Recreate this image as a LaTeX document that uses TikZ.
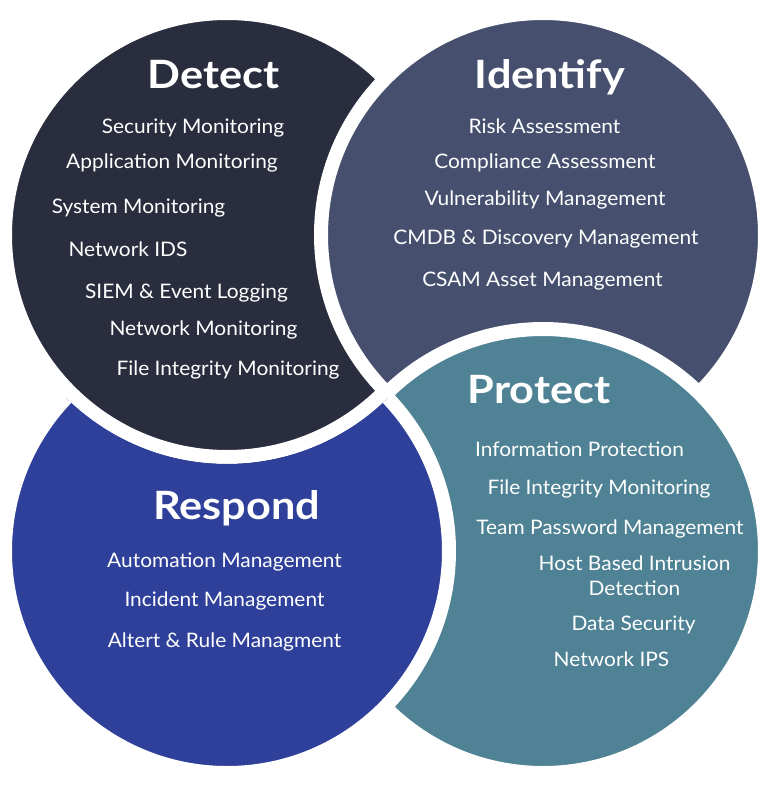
\documentclass[tikz,border=0pt]{standalone}
\usepackage{fontspec}
\setmainfont{Lato}[FakeStretch=1.045]
\newfontfamily\titlefont{Lato}[FakeStretch=1.11]
\definecolor{detectc}{RGB}{41,45,61}
\definecolor{identifyc}{RGB}{70,80,110}
\definecolor{protectc}{RGB}{78,130,148}
\definecolor{respondc}{RGB}{46,64,154}
\tikzset{
  ring/.style={draw=white, line width=14pt},
  titletext/.style={text=white, inner sep=0pt, anchor=base, font=\titlefont\bfseries\fontsize{39}{44}\selectfont},
  itemtext/.style={text=white, inner sep=0pt, anchor=base, font=\fontsize{20}{25}\selectfont},
}
\begin{document}
\begin{tikzpicture}[x=1pt,y=-1pt]
\useasboundingbox (0,0) rectangle (775,788);
% circles (cyclic overlap: Detect < Identify < Protect < Respond < Detect)
\path[ring, fill=respondc] (227,551) circle[radius=222pt];
\path[ring, fill=detectc] (227,235) circle[radius=222pt];
\path[ring, fill=identifyc] (543,235) circle[radius=222pt];
\path[ring, fill=protectc] (543,551) circle[radius=222pt];
\begin{scope}[even odd rule]
  \clip (0,0) rectangle (775,788) (227,235) circle[radius=229pt];
  \path[ring, fill=respondc] (227,551) circle[radius=222pt];
\end{scope}
% Detect
\node[titletext] (detect) at (213.5,88) {Detect};
\node[itemtext] (d1) at (193,133) {Security Monitoring};
\node[itemtext] (d2) at (172,168) {Application Monitoring};
\node[itemtext] (d3) at (138.5,213) {System Monitoring};
\node[itemtext] (d4) at (128,256) {Network IDS};
\node[itemtext] (d5) at (186.5,298) {SIEM \& Event Logging};
\node[itemtext] (d6) at (203.5,335) {Network Monitoring};
\node[itemtext] (d7) at (228,375) {File Integrity Monitoring};
% Identify
\node[titletext] (identify) at (550,88) {Identify};
\node[itemtext] (i1) at (544.5,133) {Risk Assessment};
\node[itemtext] (i2) at (545,168) {Compliance Assessment};
\node[itemtext] (i3) at (545,205) {Vulnerability Management};
\node[itemtext] (i4) at (546,244) {CMDB \& Discovery Management};
\node[itemtext] (i5) at (542.5,286) {CSAM Asset Management};
% Protect
\node[titletext] (protect) at (539,403) {Protect};
\node[itemtext] (p1) at (579.5,456) {Information Protection};
\node[itemtext] (p2) at (599,494) {File Integrity Monitoring};
\node[itemtext] (p3) at (610,534) {Team Password Management};
\node[itemtext, anchor=north, align=center] (p4) at (634.5,555.5) {Host Based Intrusion\\Detection};
\node[itemtext] (p5) at (633.5,630) {Data Security};
\node[itemtext] (p6) at (611.5,666) {Network IPS};
% Respond
\node[titletext] (respond) at (236.5,519) {Respond};
\node[itemtext] (r1) at (224.5,567) {Automation Management};
\node[itemtext] (r2) at (224.5,606) {Incident Management};
\node[itemtext] (r3) at (224.5,647) {Altert \& Rule Managment};
\end{tikzpicture}
\end{document}
